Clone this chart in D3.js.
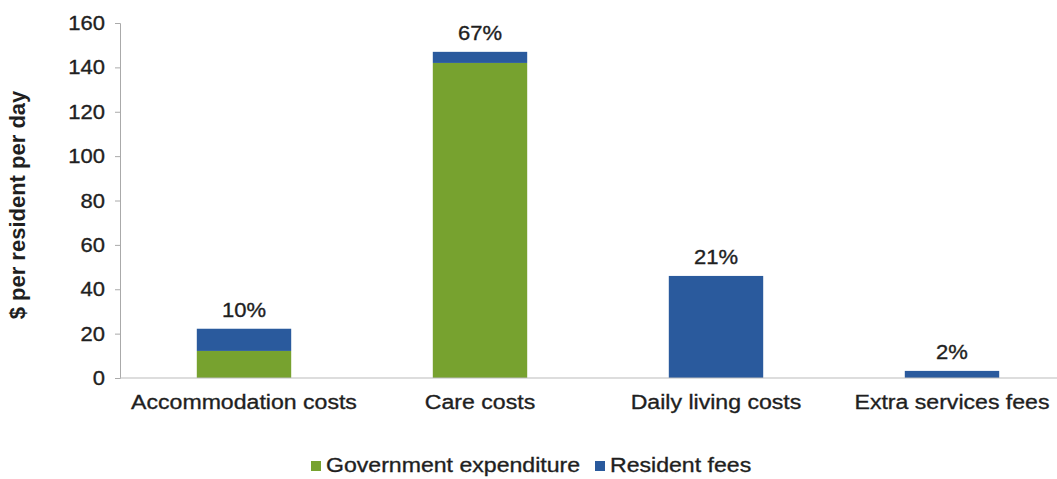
<!DOCTYPE html>
<html>
<head>
<meta charset="utf-8">
<script src="https://cdn.jsdelivr.net/npm/d3@7"></script>
<style>
  body { margin: 0; background: #fff; }
  svg { display: block; font-family: "Liberation Sans", Arial, sans-serif; }
</style>
</head>
<body>
<svg id="chart" width="1057" height="479"></svg>
<script>
// Daily cost components, $ per resident per day
const categories = ["Accommodation costs", "Care costs", "Daily living costs", "Extra services fees"];
const governmentExpenditure = [12.2, 142, 0, 0];
const residentFees = [10, 5, 46, 3.2];
const shareLabels = ["10%", "67%", "21%", "2%"];
const seriesNames = ["Government expenditure", "Resident fees"];
const yTicks = [0, 20, 40, 60, 80, 100, 120, 140, 160];

const colors = { "Government expenditure": "#77a22f", "Resident fees": "#2a5a9d" };
const textColor = "#1f1f1f";
const stretch = 1.1; // slightly wide lettering

const svg = d3.select("#chart");
const x0 = 120, x1 = 1057, yTop = 23, yBase = 378;

const rows = categories.map((c, i) => ({
  category: c,
  "Government expenditure": governmentExpenditure[i],
  "Resident fees": residentFees[i],
  label: shareLabels[i]
}));

const x = d3.scaleBand().domain(categories).range([126, 1070]).paddingInner(0.6).paddingOuter(0.3);
const y = d3.scaleLinear().domain([0, 160]).range([yBase, yTop]);

const stacked = d3.stack().keys(seriesNames)(rows);

svg.append("g").selectAll("g").data(stacked).join("g")
  .attr("fill", d => colors[d.key])
  .selectAll("rect").data(d => d).join("rect")
  .attr("x", d => x(d.data.category))
  .attr("width", x.bandwidth())
  .attr("y", d => y(d[1]))
  .attr("height", d => Math.max(0, y(d[0]) - y(d[1])));

// places a horizontally widened text label
function label(parent, px, py, str, size, anchor, weight) {
  return parent.append("text")
    .attr("transform", `translate(${px},${py}) scale(${stretch},1)`)
    .attr("text-anchor", anchor)
    .attr("font-size", size)
    .attr("font-weight", weight || "normal")
    .attr("fill", textColor)
    .attr("stroke", textColor)
    .attr("stroke-width", 0.35)
    .text(str);
}

// y axis
const yAxis = d3.axisLeft(y).tickValues(yTicks).tickSize(5).tickFormat("");
const gy = svg.append("g").attr("transform", `translate(${x0},0)`).call(yAxis);
gy.select(".domain").attr("stroke", "#aaa");
gy.selectAll(".tick line").attr("stroke", "#aaa");
const tickLabels = svg.append("g");
yTicks.forEach(t => label(tickLabels, 105, y(t) + 7, String(t), 20, "end"));

// baseline
svg.append("line").attr("x1", x0).attr("x2", x1).attr("y1", yBase).attr("y2", yBase)
  .attr("stroke", "#bbb");

// category labels
const catG = svg.append("g");
categories.forEach(c => label(catG, x(c) + x.bandwidth() / 2, 409, c, 21, "middle"));

// share labels above each stack
const shareG = svg.append("g");
rows.forEach(d => label(shareG, x(d.category) + x.bandwidth() / 2,
  y(d["Government expenditure"] + d["Resident fees"]) - 12, d.label, 20, "middle"));

// y axis title
svg.append("text")
  .attr("transform", "translate(25,205) rotate(-90)")
  .attr("text-anchor", "middle")
  .attr("font-size", 22)
  .attr("font-weight", "bold")
  .attr("fill", textColor)
  .text("$ per resident per day");

// legend
const legendX = [311, 595];
const lg = svg.append("g");
seriesNames.forEach((s, i) => {
  lg.append("rect").attr("x", legendX[i]).attr("y", 461).attr("width", 10).attr("height", 10)
    .attr("fill", colors[s]);
  label(lg, legendX[i] + 15, 472, s, 21, "start");
});
</script>
</body>
</html>
